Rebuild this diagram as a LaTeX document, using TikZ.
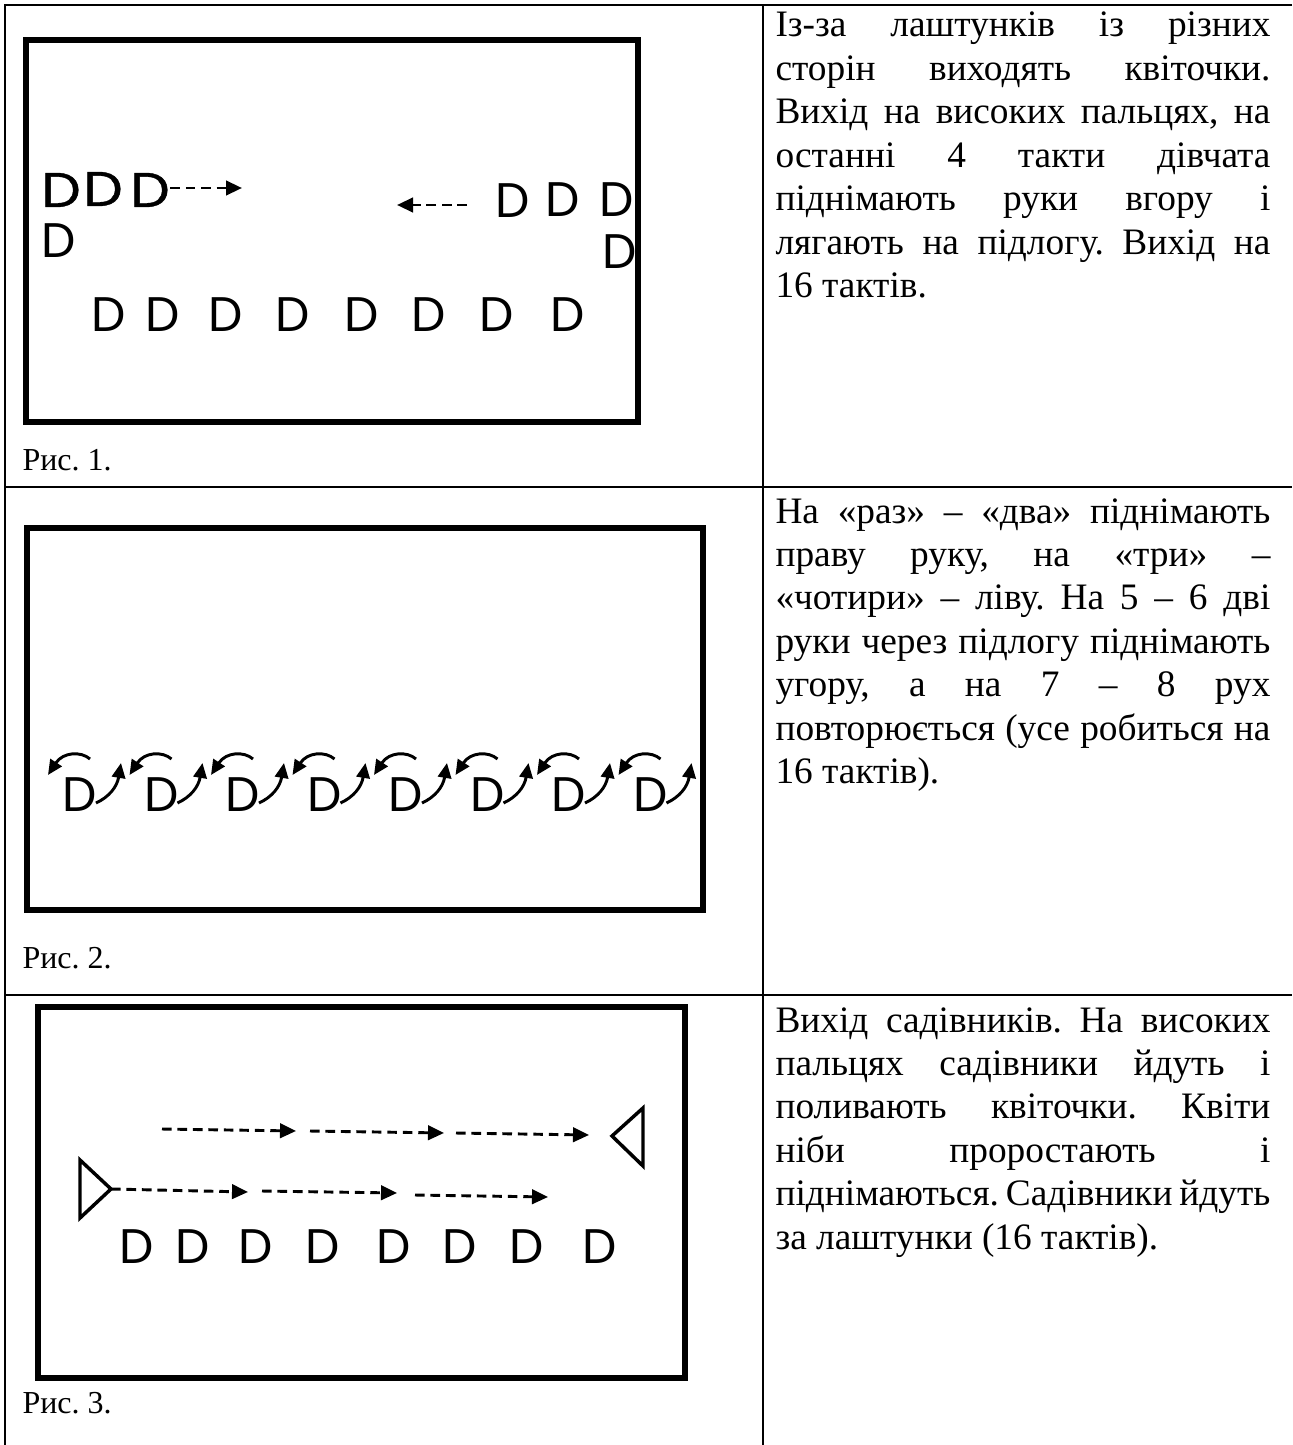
\documentclass[tikz,border=0pt]{standalone}
\usepackage{fontspec}
\setmainfont{Liberation Serif}
\newfontfamily\flowerfont{Poppins}
\newfontfamily\flowerboldfont[FakeBold=0.8]{Poppins}
\usetikzlibrary{arrows.meta,calc}
\hyphenpenalty=10000
\exhyphenpenalty=10000
\tolerance=9999
\emergencystretch=20pt
\frenchspacing

\begin{document}
\begin{tikzpicture}[x=0.375pt, y=-0.375pt,
  every node/.style={font=\fontsize{14pt}{16.3pt}\selectfont, inner sep=0pt},
  grid/.style={line width=0.85pt},
  stage/.style={line width=1.9pt},
  flower/.style={font=\flowerfont\fontsize{18.2pt}{18.2pt}\selectfont},
  bigflower/.style={font=\flowerboldfont\fontsize{18.2pt}{18.2pt}\selectfont, xscale=1.15},
  walk/.style={line width=1.1pt, dash pattern=on 3.6pt off 2.2pt, -{Triangle[length=6pt, width=5.4pt]}},
  turn/.style={line width=1.1pt, -{Triangle[length=5.6pt, width=5pt]}},
  gardener/.style={line width=1.3pt},
  caption/.style={anchor=base west, font=\fontsize{12pt}{14pt}\selectfont},
  note/.style={anchor=base west, text width=185.6pt, align=justify}]

  % Table
  \path[use as bounding box, fill=white] (0,0) rectangle (1292,1445);
  \draw[grid] (1292,5) -- (5,5) -- (5,1445);
  \draw[grid] (763,5) -- (763,1445);
  \draw[grid] (5,487) -- (1292,487);
  \draw[grid] (5,995) -- (1292,995);

  % Fig. 1
  \draw[stage] (26,40) rectangle (638,422);
  \node[bigflower] (d1) at (61,190) {D};
  \node[bigflower] (d2) at (103,189) {D};
  \node[bigflower] (d3) at (150,190) {D};
  \node[flower] (d4) at (59,241) {D};
  \node[flower] (d5) at (513,201) {D};
  \node[flower] (d6) at (563,200) {D};
  \node[flower] (d7) at (617,200) {D};
  \node[flower] (d8) at (620,252) {D};
  \foreach \x [count=\i] in {109,163,226,293,362,429,497,568}{
    \node[flower] (r\i) at (\x,315) {D};
  }
  \coordinate (m1) at (242,188);
  \coordinate (m2) at (467,205);
  \coordinate (m3) at (397,205);
  \draw[walk] (d3.east |- m1) -- (m1);
  \draw[walk] (m2) -- (m3);
  \node[caption] (c1) at (22,470) {Рис. 1.};

  % Fig. 2
  \draw[stage] (27,528) rectangle (703,910);
  \foreach \x [count=\i] in {80,161.5,243,324.5,406,487.5,569,650.5}{
    \node[flower] (s\i) at (\x,795) {D};
    \draw[turn] ($(s\i)+(10,-36)$) .. controls ($(s\i)+(1,-44)$) and ($(s\i)+(-17,-43)$) .. ($(s\i)+(-32,-20)$);
    \draw[turn] ($(s\i)+(16,8)$) .. controls ($(s\i)+(29,2)$) and ($(s\i)+(37,-8)$) .. ($(s\i)+(41,-32)$);
  }
  \node[caption] (c2) at (22,968) {Рис. 2.};

  % Fig. 3
  \draw[stage] (38,1007) rectangle (685,1378);
  \draw[gardener] (80,1160) -- (111,1189) -- (80,1218) -- cycle;
  \draw[gardener] (643,1108) -- (612,1136) -- (643,1166) -- cycle;
  \coordinate (g1) at (111,1189);
  \foreach \x [count=\i] in {137,193,256,323,394,460,527,600}{
    \node[flower] (p\i) at (\x,1247) {D};
  }
  \foreach \i/\xa/\ya/\xb/\yb in {1/162/1129/296/1131, 2/310/1131/444/1133, 3/456/1133/589/1135,
                                   5/262/1191/397/1193, 6/415/1195/548/1197}{
    \coordinate (a\i) at (\xa,\ya);
    \coordinate (b\i) at (\xb,\yb);
    \draw[walk] (a\i) -- (b\i);
  }
  \coordinate (b4) at (248,1192);
  \draw[walk] (g1) -- (b4);
  \node[caption] (c3) at (22,1413) {Рис. 3.};

  % Descriptions
  \node[note] (t1) at (775,37) {Із-за лаштунків із різних\linebreak
    сторін виходять квіточки.\linebreak
    Вихід на високих пальцях, на\linebreak
    останні 4 такти дівчата\linebreak
    піднімають руки вгору і\linebreak
    лягають на підлогу. Вихід на\linebreak
    16 тактів.};
  \node[note] (t2) at (775,523) {На «раз» – «два» піднімають\linebreak
    праву руку, на «три» –\linebreak
    «чотири» – ліву. На 5 – 6 дві\linebreak
    руки через підлогу піднімають\linebreak
    угору, а на 7 – 8 рух\linebreak
    повторюється (усе робиться на\linebreak
    16 тактів).};
  \node[note] (t3) at (775,1032) {Вихід садівників. На високих\linebreak
    пальцях садівники йдуть і\linebreak
    поливають квіточки. Квіти\linebreak
    ніби проростають і\linebreak
    піднімаються. Садівники йдуть\linebreak
    за лаштунки (16 тактів).};
\end{tikzpicture}
\end{document}
